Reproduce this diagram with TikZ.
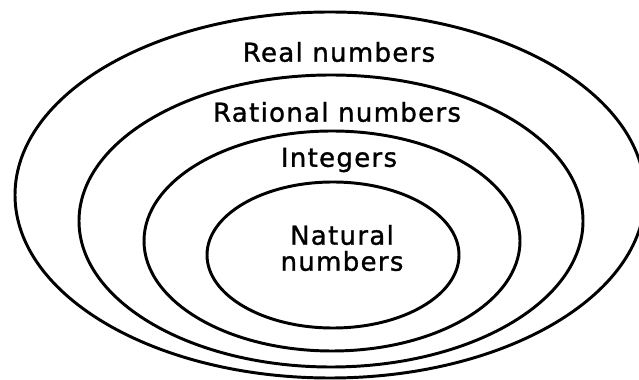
\documentclass[tikz,border=0pt]{standalone}
\usepackage{fontspec}
\newfontfamily\setfont[LetterSpace=5,FakeBold=1.2]{DejaVu Sans}
\usepackage{tikz}
\usetikzlibrary{positioning}

\begin{document}
\begin{tikzpicture}[set/.style={line width=2.1pt},lbl/.style={font=\setfont\fontsize{18.5}{18.5}\selectfont,inner sep=0pt,align=center}]
\useasboundingbox (0,0) rectangle (15.975,9.475);
\draw[set] (8.25,4.6) ellipse [x radius=7.875,y radius=4.575];
\draw[set] (8.275,3.95) ellipse [x radius=6.3,y radius=3.65];
\draw[set] (8.3,3.45) ellipse [x radius=4.7,y radius=2.75];
\draw[set] (8.325,3.1) ellipse [x radius=3.15,y radius=1.825];
\node[lbl] (real) at (8.475,8.175) {Real numbers};
\node[lbl] (rational) at (8.425,6.675) {Rational numbers};
\node[lbl] (integers) at (8.475,5.475) {Integers};
\node[lbl] (natural) at (8.55,3.275) {Natural\\numbers};
\end{tikzpicture}
\end{document}
